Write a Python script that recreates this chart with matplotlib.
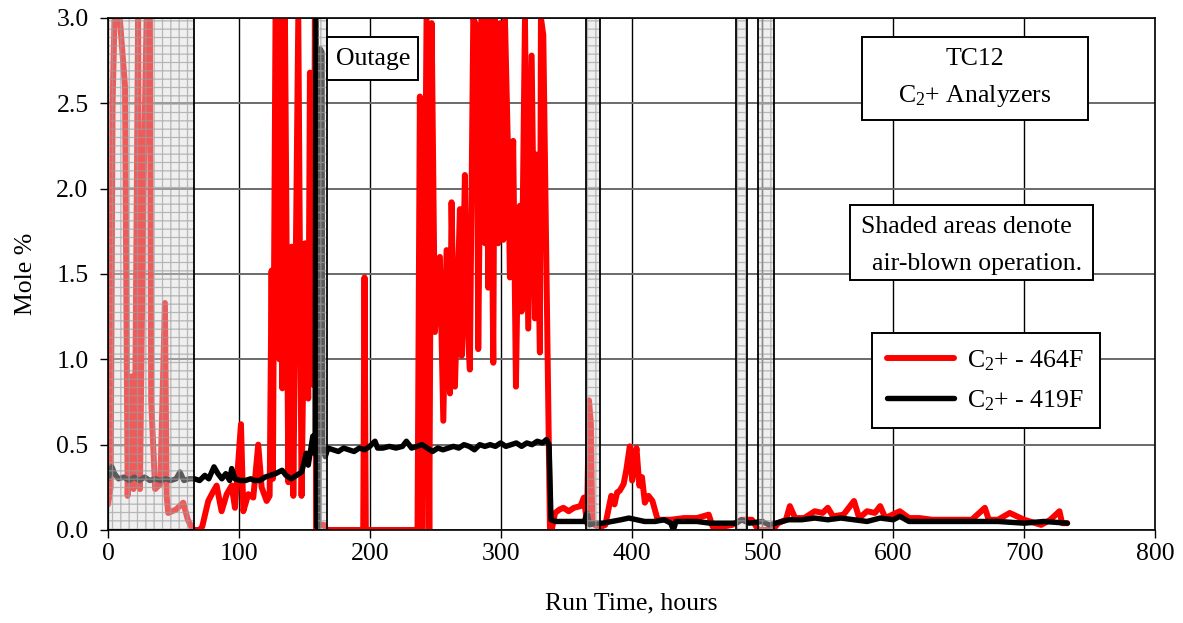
import matplotlib
matplotlib.use("Agg")
import matplotlib.pyplot as plt
from matplotlib.patches import Rectangle

plt.rcParams['font.family'] = ['Liberation Serif', 'DejaVu Serif']
plt.rcParams['mathtext.fontset'] = 'custom'
plt.rcParams['mathtext.rm'] = 'Liberation Serif'
plt.rcParams['mathtext.it'] = 'Liberation Serif:italic'
plt.rcParams['hatch.linewidth'] = 0.9

# ---------------- data ----------------
red_hours = [0, 2, 3.5, 5, 9, 13, 15, 18, 19.5, 20.6, 23, 24.4, 27, 29.5, 32, 33, 36, 40, 43.5, 44.8,
             46, 52, 57.5, 61, 65, 70, 72, 76.6, 80, 83, 86.8, 90.7, 94.5, 97, 101.6, 103.4, 107.2,
             111, 114.8, 117.4, 121.2, 123.5, 125, 126, 128, 130, 131, 132, 133.2, 135.2, 137.8,
             140.3, 141.6, 145.4, 147.9, 150.5, 153, 154.3, 156.8, 158.1, 159, 162, 165, 167, 195,
             196, 197, 236.5, 238.3, 240.5, 243.4, 245.5, 247.3, 249.8, 253.6, 256.2, 258.7, 261.3,
             262.5, 265.1, 268.9, 270.2, 272.7, 274, 276.5, 279.1, 281.6, 282.9, 285.5, 288, 289.3,
             290.5, 291.8, 294.4, 295.6, 298.2, 299.5, 302, 303.3, 305.8, 307.1, 309.6, 311.7, 313.5,
             314.7, 316, 318.6, 321.1, 323.7, 326.2, 327.5, 330, 330.8, 332.6, 335.1, 337.7, 339,
             341.6, 345, 348, 352, 356, 361, 363.6, 366, 367.5, 369, 370, 374, 377, 380, 384.5, 387,
             389, 391, 394, 396, 398.7, 400.5, 402, 403.8, 406, 408, 410.2, 413, 416, 420, 430, 440,
             450, 459, 462, 470, 477, 484, 492, 497, 508, 512, 518, 521, 525, 532, 540, 546, 550,
             554, 562, 570, 574, 580, 586, 590, 594, 605, 612, 620, 630, 640, 660, 670, 673, 680,
             689, 700, 713, 720, 727, 729, 733]
red_values = [0.15, 0.25, 2.5, 3.0, 3.0, 2.6, 0.2, 0.9, 0.24, 0.53, 3.0, 0.24, 1.94, 3.0, 3.0, 0.76, 0.24,
              0.27, 1.33, 0.2, 0.1, 0.12, 0.16, 0.06, 0.0, 0.0, 0.02, 0.17, 0.22, 0.26, 0.11, 0.21,
              0.26, 0.13, 0.62, 0.11, 0.21, 0.19, 0.5, 0.25, 0.17, 0.2, 1.52, 0.3, 3.0, 3.0, 1.0, 3.0,
              0.83, 3.0, 0.28, 1.66, 0.2, 3.0, 0.2, 1.68, 0.77, 2.68, 0.85, 3.0, 0.0, 0.03, 0.03, 0.0,
              0.0, 1.48, 0.0, 0.0, 2.54, 0.0, 3.0, 0.0, 2.97, 1.16, 1.6, 0.64, 1.64, 0.8, 1.92, 0.84,
              1.88, 1.02, 2.08, 1.28, 0.94, 3.0, 2.95, 1.06, 3.0, 1.68, 3.0, 1.42, 3.0, 0.98, 3.0,
              1.68, 2.97, 1.7, 3.0, 2.16, 1.48, 2.28, 0.84, 1.78, 1.9, 1.28, 3.0, 1.18, 2.78, 1.24,
              2.2, 1.04, 3.0, 2.9, 1.48, 0.0, 0.0, 0.1, 0.12, 0.13, 0.11, 0.13, 0.14, 0.19, 0.04, 0.76,
              0.62, 0.04, 0.02, 0.02, 0.03, 0.2, 0.15, 0.22, 0.23, 0.27, 0.35, 0.49, 0.29, 0.36, 0.48,
              0.26, 0.31, 0.16, 0.2, 0.17, 0.06, 0.06, 0.07, 0.07, 0.09, 0.02, 0.02, 0.03, 0.06, 0.06,
              0.0, 0.0, 0.04, 0.06, 0.14, 0.07, 0.07, 0.11, 0.1, 0.13, 0.08, 0.09, 0.17, 0.07, 0.11,
              0.1, 0.14, 0.07, 0.11, 0.07, 0.07, 0.06, 0.06, 0.06, 0.13, 0.06, 0.06, 0.1, 0.06, 0.03,
              0.06, 0.11, 0.04, 0.04]

black_hours = [0, 3, 5, 8, 12, 16, 20, 24, 28, 32, 36, 40, 44, 48, 52, 55, 58, 62, 66, 70, 74, 77, 81,
               84, 87, 90, 93, 94.5, 97, 101, 105, 109, 112, 116, 120, 124, 128, 133, 136, 140, 144,
               148, 151.5, 153, 156.5, 157.5, 158.3, 158.8, 159.5, 161, 162, 163.5, 164, 166, 168,
               172, 176, 180, 184, 188, 192, 196, 200, 204, 206, 210, 215, 220, 225, 228, 232, 236,
               240, 244, 248, 252, 256, 260, 264, 268, 272, 276, 280, 284, 288, 292, 296, 300, 304,
               308, 312, 316, 320, 324, 328, 332, 335, 337, 338.5, 342, 350, 358, 364, 366, 368, 372,
               378, 385, 392, 398, 404, 410, 418, 425, 430, 432, 434, 440, 450, 460, 470, 480, 484,
               490, 500, 505, 510, 520, 530, 540, 550, 560, 570, 580, 590, 600, 605, 612, 620, 640,
               660, 680, 700, 715, 733]
black_values = [0.30, 0.37, 0.33, 0.30, 0.31, 0.29, 0.31, 0.29, 0.31, 0.29, 0.30, 0.29, 0.30, 0.29,
                0.30, 0.34, 0.29, 0.30, 0.30, 0.29, 0.32, 0.30, 0.37, 0.33, 0.30, 0.33, 0.29, 0.36,
                0.30, 0.29, 0.29, 0.30, 0.29, 0.29, 0.31, 0.32, 0.33, 0.35, 0.32, 0.30, 0.32, 0.34,
                0.45, 0.38, 0.55, 0.45, 0.50, 3.05, 0.02, 0.02, 2.82, 2.80, 0.48, 0.43, 0.48, 0.47,
                0.46, 0.48, 0.47, 0.46, 0.48, 0.47, 0.49, 0.52, 0.48, 0.48, 0.49, 0.48, 0.49, 0.52,
                0.48, 0.49, 0.50, 0.48, 0.46, 0.48, 0.47, 0.48, 0.49, 0.48, 0.50, 0.49, 0.47, 0.50,
                0.49, 0.50, 0.49, 0.51, 0.49, 0.50, 0.51, 0.49, 0.51, 0.50, 0.52, 0.51, 0.53, 0.50,
                0.06, 0.05, 0.05, 0.05, 0.05, 0.10, 0.03, 0.04, 0.04, 0.05, 0.06, 0.07, 0.06, 0.05,
                0.05, 0.06, 0.04, 0.0, 0.05, 0.05, 0.05, 0.04, 0.04, 0.04, 0.06, 0.04, 0.05, 0.03,
                0.04, 0.06, 0.06, 0.07, 0.06, 0.07, 0.06, 0.05, 0.07, 0.06, 0.08, 0.05, 0.05, 0.05,
                0.05, 0.05, 0.04, 0.05, 0.04]

air_blown_start = [0, 159.4, 365, 480.2, 496.8]
air_blown_end = [66, 167.4, 376, 487.9, 509]

x_ticks = [0, 100, 200, 300, 400, 500, 600, 700, 800]
y_ticks = [0.0, 0.5, 1.0, 1.5, 2.0, 2.5, 3.0]

FS = 18.5

# ---------------- figure ----------------
fig = plt.figure(figsize=(11.83, 6.23), dpi=100)
ax = fig.add_axes([108 / 1183, 93 / 623, 1047 / 1183, 512 / 623])

ax.plot(red_hours, red_values, color='#ff0000', lw=4.3, solid_joinstyle='round',
        solid_capstyle='round', zorder=2, label=r'C$_2$+ - 464F')
ax.plot(black_hours, black_values, color='black', lw=3.9, solid_joinstyle='round',
        solid_capstyle='round', zorder=2.1, label=r'C$_2$+ - 419F')

for x0, x1 in zip(air_blown_start, air_blown_end):
    ax.add_patch(Rectangle((x0, 0), x1 - x0, 3.0, facecolor=(0.86, 0.86, 0.86, 0.42),
                           edgecolor=(0.62, 0.62, 0.62, 0.7), hatch='++', lw=0, zorder=3))
    ax.add_patch(Rectangle((x0, 0), x1 - x0, 3.0, facecolor='none',
                           edgecolor='black', lw=1.3, zorder=3.1))

ax.set_xlim(0, 800)
ax.set_ylim(0, 3.0)
ax.set_xticks(x_ticks)
ax.set_yticks(y_ticks)
ax.set_yticklabels([f'{v:.1f}' for v in y_ticks])
ax.tick_params(axis='both', direction='out', length=6, width=1, labelsize=FS, colors='black')
ax.tick_params(axis='x', pad=3)
ax.tick_params(axis='y', pad=8)

ax.xaxis.grid(True, color='black', lw=1.0, zorder=1)
ax.yaxis.grid(True, color='#6a6a6a', lw=1.4, zorder=1)
ax.set_axisbelow(True)
for s in ax.spines.values():
    s.set_linewidth(1.2)
    s.set_color('black')
    s.set_zorder(4)

ax.set_xlabel('Run Time, hours', fontsize=FS, labelpad=20)
ax.set_ylabel('Mole %', fontsize=FS, labelpad=14)


def text_box(x0, x1, y0, y1):
    ax.add_patch(Rectangle((x0, y0), x1 - x0, y1 - y0, facecolor='white', edgecolor='black',
                           lw=1.4, zorder=6, clip_on=False))


# Outage box
text_box(167.3, 236.8, 2.636, 2.888)
ax.text(202.4, 2.76, 'Outage', fontsize=FS, ha='center', va='center', zorder=7)

# Title box
text_box(576, 749, 2.402, 2.888)
ax.text(662.5, 2.76, 'TC12', fontsize=FS, ha='center', va='center', zorder=7)
ax.text(662.5, 2.545, r'C$_2$+ Analyzers', fontsize=FS, ha='center', va='center', zorder=7)

# Note box
text_box(566.8, 752.5, 1.465, 1.904)
ax.text(655.5, 1.775, 'Shaded areas denote', fontsize=FS, ha='center', va='center', zorder=7)
ax.text(664, 1.56, 'air-blown operation.', fontsize=FS, ha='center', va='center', zorder=7)

leg = ax.legend(loc='upper right', bbox_to_anchor=(0.947, 0.385), fontsize=FS, frameon=True,
                fancybox=False, framealpha=1, edgecolor='black', handlelength=2.6,
                borderpad=0.6, labelspacing=0.6, handletextpad=0.5, borderaxespad=0)
leg.get_frame().set_linewidth(1.4)
leg.set_zorder(8)

fig.savefig('out.png', dpi=100)
